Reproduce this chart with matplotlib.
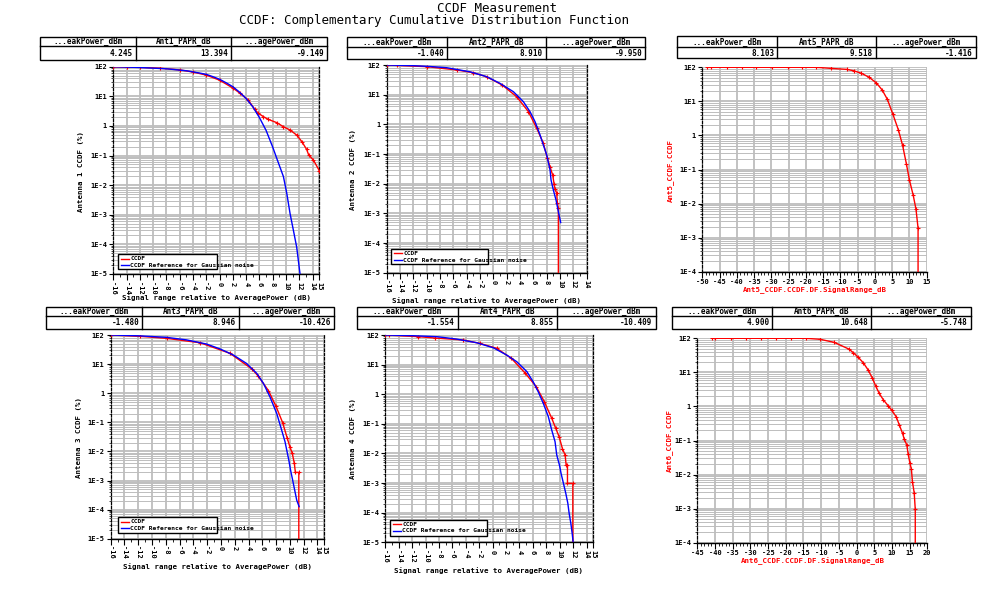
import matplotlib
matplotlib.use("Agg")
import matplotlib.pyplot as plt
from matplotlib.patches import Rectangle
from matplotlib.lines import Line2D
from matplotlib.ticker import MultipleLocator, LogLocator, NullFormatter

plt.rcParams['font.family'] = ['DejaVu Sans Mono', 'DejaVu Sans']

# ------------------------------------------------------------------ data
title_lines = ["CCDF Measurement",
               "CCDF: Complementary Cumulative Distribution Function"]

headers_ant1 = ["...eakPower_dBm", "Ant1_PAPR_dB", "...agePower_dBm"]
values_ant1 = ["4.245", "13.394", "-9.149"]
headers_ant2 = ["...eakPower_dBm", "Ant2_PAPR_dB", "...agePower_dBm"]
values_ant2 = ["-1.040", "8.910", "-9.950"]
headers_ant5 = ["...eakPower_dBm", "Ant5_PAPR_dB", "...agePower_dBm"]
values_ant5 = ["8.103", "9.518", "-1.416"]
headers_ant3 = ["...eakPower_dBm", "Ant3_PAPR_dB", "...agePower_dBm"]
values_ant3 = ["-1.480", "8.946", "-10.426"]
headers_ant4 = ["...eakPower_dBm", "Ant4_PAPR_dB", "...agePower_dBm"]
values_ant4 = ["-1.554", "8.855", "-10.409"]
headers_ant6 = ["...eakPower_dBm", "Ant6_PAPR_dB", "...agePower_dBm"]
values_ant6 = ["4.900", "10.648", "-5.748"]

legend_labels = ["CCDF", "CCDF Reference for Gaussian noise"]
xlabel_signal = "Signal range relative to AveragePower (dB)"
ylabel_ant1 = "Antenna 1 CCDF (%)"
ylabel_ant2 = "Antenna 2 CCDF (%)"
ylabel_ant3 = "Antenna 3 CCDF (%)"
ylabel_ant4 = "Antenna 4 CCDF (%)"
ylabel_ant5 = "Ant5_CCDF.CCDF"
xlabel_ant5 = "Ant5_CCDF.CCDF.DF.SignalRange_dB"
ylabel_ant6 = "Ant6_CCDF.CCDF"
xlabel_ant6 = "Ant6_CCDF.CCDF.DF.SignalRange_dB"

yticks_7dec = [1e-5, 1e-4, 1e-3, 1e-2, 1e-1, 1, 10, 100]
ylabels_7dec = ["1E-5", "1E-4", "1E-3", "1E-2", "1E-1", "1", "1E1", "1E2"]
yticks_6dec = [1e-4, 1e-3, 1e-2, 1e-1, 1, 10, 100]
ylabels_6dec = ["1E-4", "1E-3", "1E-2", "1E-1", "1", "1E1", "1E2"]

xticks_a = [-16, -14, -12, -10, -8, -6, -4, -2, 0, 2, 4, 6, 8, 10, 12, 14, 15]
xticks_b = [-16, -14, -12, -10, -8, -6, -4, -2, 0, 2, 4, 6, 8, 10, 12, 14]
xticks_ant5 = [-50, -45, -40, -35, -30, -25, -20, -15, -10, -5, 0, 5, 10, 15]
xticks_ant6 = [-45, -40, -35, -30, -25, -20, -15, -10, -5, 0, 5, 10, 15, 20]

# Antenna 1
ant1_ccdf_db = [-16, -14, -12, -9, -6, -4, -2, 0, 2, 3, 4.3, 5.3, 5.8, 6.6, 7.3,
                8.6, 9.6, 10.6, 11.6, 12.4, 13.1, 13.4, 14.1, 15.0]
ant1_ccdf_pct = [98, 97, 95, 89, 78, 66, 52, 35, 19, 13, 7.5, 3.6, 2.7, 2.05, 1.67,
                 1.29, 0.94, 0.73, 0.49, 0.29, 0.16, 0.105, 0.071, 0.031]
ant1_gauss_db = [-16, -12, -8, -5, -3, -2, -1, 0, 1, 2, 3, 4, 5, 6, 7, 8, 8.6,
                 9.6, 10.1, 10.6, 11.1, 11.6, 12.1]
ant1_gauss_pct = [99.9, 94, 85, 73, 61, 55, 46, 37.5, 28.5, 21, 13.8, 8.4, 4.4, 1.9,
                  0.7, 0.19, 0.08, 0.0195, 0.0054, 0.0011, 0.0003, 8e-5, 1e-5]

# Antenna 2
ant2_ccdf_db = [-16, -14.5, -10, -5.5, -3, -1, 1.35, 3.5, 5.25, 6.5, 7.5, 8.1, 8.5,
                8.9, 9.1, 9.25, 9.5, 9.6, 9.75, 9.75]
ant2_ccdf_pct = [99, 97, 88, 68, 55, 40, 21, 8.5, 2.7, 0.74, 0.23, 0.072, 0.037,
                 0.0195, 0.010, 0.0066, 0.0048, 0.0022, 0.0015, 1e-6]
ant2_gauss_db = [-16, -12, -9.5, -7, -3.5, -1, 1, 3, 4.5, 5.5, 6.25, 7, 7.5, 8, 8.5,
                 8.65, 9, 9.4, 9.75, 10.1]
ant2_gauss_pct = [100, 95, 89, 81, 59, 40.4, 24, 12.6, 5.8, 2.67, 1.23, 0.44, 0.2,
                  0.093, 0.029, 0.0133, 0.0061, 0.0028, 0.00114, 0.00049]

# Antenna 5
ant5_ccdf_db = [-48.6, -47.4, -42.8, -38.4, -34.4, -29.8, -25.1, -21.2, -17.0, -12.7,
                -8.2, -6.1, -3.9, -1.7, 0.4, 2.1, 3.6, 5.2, 6.8, 8.0, 9.1, 10.0, 11.1,
                11.9, 12.5, 12.5]
ant5_ccdf_pct = [100, 100, 100, 100, 100, 100, 100, 100, 100, 93,
                 87, 79, 66.7, 51, 35, 21.6, 11.5, 4.2, 1.45, 0.52, 0.15, 0.049, 0.0174,
                 0.0068, 0.0019, 1e-6]

# Antenna 3
ant3_ccdf_db = [-16, -11.75, -7.9, -3.0, 1.3, 4.5, 5.4, 6.9, 8.0, 8.95, 9.6, 10.0,
                10.35, 10.65, 10.8, 11.3, 11.3]
ant3_ccdf_pct = [100, 90, 77, 54, 23.5, 6.8, 3.9, 1.22, 0.35, 0.098, 0.0296, 0.0145,
                 0.0086, 0.0039, 0.0019, 0.0019, 1e-6]
ant3_gauss_db = [-16, -12, -7.9, -5, -2.1, -0.1, 1.8, 3.7, 5.2, 6.15, 7.1, 8.1, 8.8,
                 9.3, 9.55, 9.85, 10.1, 10.4, 10.7, 11.0, 11.35]
ant3_gauss_pct = [100, 94, 83, 68, 49, 33, 20.5, 10.6, 4.8, 2.2, 0.76, 0.2, 0.055,
                  0.0215, 0.011, 0.005, 0.0023, 0.00105, 0.00047, 0.00021, 0.000126]

# Antenna 4
ant4_ccdf_db = [-16, -15.5, -11.1, -8.6, -4.4, -1.9, 0.6, 2.8, 4.8, 6.5, 7.7, 8.8,
                9.4, 9.9, 10.4, 10.8, 10.95, 11.15, 11.15, 11.95, 11.95]
ant4_ccdf_pct = [100, 99, 88, 79, 68, 52, 35.5, 16.2, 5.3, 1.8, 0.56, 0.155, 0.071,
                 0.037, 0.0145, 0.0089, 0.0041, 0.0041, 0.00098, 0.00098, 1e-6]
ant4_gauss_db = [-16, -12, -8.3, -5.4, -2.4, 0.1, 2.1, 3.6, 5.1, 6.05, 6.8, 7.55, 8.3,
                 8.8, 9.3, 9.55, 9.95, 10.2, 10.55, 10.9, 11.2, 11.4, 11.65, 11.85, 12.0]
ant4_gauss_pct = [100, 95, 87.7, 73, 55, 37, 21, 12.5, 5.8, 2.6, 1.2, 0.49, 0.174,
                  0.062, 0.025, 0.0089, 0.0041, 0.0021, 0.00098, 0.00045, 0.00021,
                  9.5e-5, 4.4e-5, 2.0e-5, 1e-5]

# Antenna 6
ant6_ccdf_db = [-40.9, -39.9, -35.6, -31.3, -27.1, -22.8, -18.6, -14.4, -10.3, -6.3,
                -2.2, -0.9, 0.5, 1.9, 3.3, 4.5, 5.4, 6.4, 7.6, 9.0, 9.9, 11.2, 12.1,
                13.0, 13.5, 14.2, 14.6, 15.1, 15.5, 15.8, 16.3, 16.6, 16.6]
ant6_ccdf_pct = [100, 100, 100, 100, 100, 100, 100, 100, 93.5, 76,
                 48.5, 37.8, 27.5, 19.2, 11.7, 6.7, 4.0, 2.43, 1.55, 1.03, 0.785, 0.5,
                 0.285, 0.162, 0.108, 0.074, 0.0394, 0.0214, 0.0146, 0.0062, 0.0029,
                 0.00095, 1e-6]

# ------------------------------------------------------------------ figure
W, H = 1000, 593
fig = plt.figure(figsize=(W / 100, H / 100), dpi=100)
fig.patch.set_facecolor('white')

RED = '#ff0000'
BLUE = '#0000ff'
GRID = '#bdbdbd'


def T(x, y, s, **kw):
    kw.setdefault('fontsize', 5)
    kw.setdefault('fontweight', 'bold')
    kw.setdefault('zorder', 6)
    return fig.text(x / W, 1 - y / H, s, **kw)


def L(xs, ys, **kw):
    kw.setdefault('zorder', 6)
    fig.add_artist(Line2D([x / W for x in xs], [1 - y / H for y in ys],
                          transform=fig.transFigure, **kw))


def R(l, t, r, b, **kw):
    kw.setdefault('zorder', 5)
    fig.add_artist(Rectangle((l / W, 1 - b / H), (r - l) / W, (b - t) / H,
                             transform=fig.transFigure, **kw))


def draw_table(l, t, r, b, mid, d1, d2, headers, values):
    R(l, t, r, b, fill=False, ec='black', lw=1.0)
    L([l, r], [mid, mid], color='black', lw=1.0)
    L([d1, d1], [t, b], color='black', lw=1.0)
    L([d2, d2], [t, b], color='black', lw=1.0)
    for (c0, c1), h, v in zip([(l, d1), (d1, d2), (d2, r)], headers, values):
        T((c0 + c1) / 2, (t + mid) / 2 + 0.3, h, ha='center', va='center', fontsize=5.5)
        T(c1 - 3, (mid + b) / 2 + 0.3, v, ha='right', va='center', fontsize=5.5)


def draw_legend(l, t, r, b, rows):
    R(l, t, r, b, fc='white', ec='black', lw=1.0)
    for (color, label), yy in zip(rows, [t + 4.2, t + 10.8]):
        L([l + 2.5, l + 11], [yy, yy], color=color, lw=1.0)
        T(l + 12, yy, label, ha='left', va='center', fontsize=4.5)


def make_axes(l, t, r, b, xlim, xticks, yticks, ylabels, rotate, right_spine):
    ax = fig.add_axes([l / W, 1 - b / H, (r - l) / W, (b - t) / H])
    ax.set_yscale('log')
    ax.set_xlim(*xlim)
    ax.set_ylim(yticks[0], yticks[-1])
    ax.set_yticks(yticks)
    ax.set_yticklabels(ylabels)
    ax.yaxis.set_minor_locator(LogLocator(base=10, subs=(2, 3, 4, 5, 6, 7, 8, 9), numticks=50))
    ax.yaxis.set_minor_formatter(NullFormatter())
    ax.set_xticks(xticks)
    ax.set_xticklabels([str(v) for v in xticks])
    ax.xaxis.set_minor_locator(MultipleLocator(1))
    ax.grid(True, which='major', color=GRID, lw=1.3)
    ax.grid(True, which='minor', axis='y', color=GRID, lw=0.7)
    ax.set_axisbelow(True)
    for lab in ax.get_xticklabels() + ax.get_yticklabels():
        lab.set_fontweight('bold')
        lab.set_fontsize(5)
    if rotate:
        for lab in ax.get_xticklabels():
            lab.set_rotation(-90)
    ax.tick_params(axis='x', which='major', direction='out', length=4, width=0.8, pad=1.5)
    ax.tick_params(axis='x', which='minor', direction='out', length=2, width=0.6)
    ax.tick_params(axis='y', which='major', direction='out', length=3, width=0.8, pad=1.5)
    ax.tick_params(axis='y', which='minor', direction='out', length=1.2, width=0.5)
    ax.spines['top'].set_visible(False)
    ax.spines['bottom'].set_linewidth(1.0)
    ax.spines['left'].set_linestyle((0, (2, 1.5)))
    ax.spines['left'].set_linewidth(0.9)
    if right_spine:
        ax.spines['right'].set_linestyle((0, (2, 1.5)))
        ax.spines['right'].set_linewidth(0.9)
    else:
        ax.spines['right'].set_visible(False)
    return ax


def plot_ccdf(ax, x, y):
    ax.plot(x, y, color=RED, lw=1.0, marker='+', ms=3.5, mew=0.8, zorder=3)


def plot_gauss(ax, x, y):
    ax.plot(x, y, color=BLUE, lw=1.0, zorder=4)


# ------------------------------------------------------------------ titles
T(497, 8.5, title_lines[0], ha='center', va='center', fontsize=9, fontweight='normal')
T(434, 20.5, title_lines[1], ha='center', va='center', fontsize=9, fontweight='normal')

# ------------------------------------------------------------------ panel 1
draw_table(39.5, 37.3, 327.3, 60.3, 45.9, 135.7, 231.3, headers_ant1, values_ant1)
ax1 = make_axes(113.3, 66.7, 319.3, 274, (-16, 15), xticks_a, yticks_7dec, ylabels_7dec, True, True)
plot_ccdf(ax1, ant1_ccdf_db, ant1_ccdf_pct)
plot_gauss(ax1, ant1_gauss_db, ant1_gauss_pct)
draw_legend(118.3, 254.3, 216.7, 269, [(RED, legend_labels[0]), (BLUE, legend_labels[1])])
T(216.5, 297.5, xlabel_signal, ha='center', va='center', fontsize=5.3)
T(81, 171, ylabel_ant1, ha='center', va='center', rotation=90, fontsize=5.3)

# ------------------------------------------------------------------ panel 2
draw_table(347.3, 37.3, 645.3, 59.3, 47.3, 447.3, 546, headers_ant2, values_ant2)
ax2 = make_axes(386.7, 65, 586.7, 272.7, (-16, 14), xticks_b, yticks_7dec, ylabels_7dec, True, True)
plot_ccdf(ax2, ant2_ccdf_db, ant2_ccdf_pct)
plot_gauss(ax2, ant2_gauss_db, ant2_gauss_pct)
draw_legend(391, 249.3, 488.3, 264, [(RED, legend_labels[0]), (BLUE, legend_labels[1])])
T(486.7, 300.7, xlabel_signal, ha='center', va='center', fontsize=5.3)
T(353.3, 169, ylabel_ant2, ha='center', va='center', rotation=90, fontsize=5.3)

# ------------------------------------------------------------------ panel 3 (Ant5)
draw_table(677.3, 36.5, 976, 58.3, 47.3, 777.3, 876, headers_ant5, values_ant5)
ax3 = make_axes(702.3, 67.3, 926.7, 271.7, (-50, 15), xticks_ant5, yticks_6dec, ylabels_6dec, False, False)
plot_ccdf(ax3, ant5_ccdf_db, ant5_ccdf_pct)
T(814.5, 290, xlabel_ant5, ha='center', va='center', fontsize=5.3, color=RED)
T(670, 170, ylabel_ant5, ha='center', va='center', rotation=90, fontsize=5.3, color=RED)

# ------------------------------------------------------------------ panel 4 (Ant3)
draw_table(46, 307.3, 334.3, 328.7, 315.7, 142.3, 238.7, headers_ant3, values_ant3)
ax4 = make_axes(110.7, 335, 324.3, 538.7, (-16, 15), xticks_a, yticks_7dec, ylabels_7dec, True, True)
plot_ccdf(ax4, ant3_ccdf_db, ant3_ccdf_pct)
plot_gauss(ax4, ant3_gauss_db, ant3_gauss_pct)
draw_legend(118.3, 517.3, 216.7, 533.3, [(RED, legend_labels[0]), (BLUE, legend_labels[1])])
T(217.5, 566.7, xlabel_signal, ha='center', va='center', fontsize=5.3)
T(78.5, 438, ylabel_ant3, ha='center', va='center', rotation=90, fontsize=5.3)

# ------------------------------------------------------------------ panel 5 (Ant4)
draw_table(357.3, 307.3, 655.7, 329.3, 315.7, 457.7, 556.7, headers_ant4, values_ant4)
ax5 = make_axes(385.3, 335, 593.3, 542.3, (-16, 15), xticks_a, yticks_7dec, ylabels_7dec, True, True)
plot_ccdf(ax5, ant4_ccdf_db, ant4_ccdf_pct)
plot_gauss(ax5, ant4_gauss_db, ant4_gauss_pct)
draw_legend(390.3, 520, 487.3, 536, [(RED, legend_labels[0]), (BLUE, legend_labels[1])])
T(489, 570.7, xlabel_signal, ha='center', va='center', fontsize=5.3)
T(353.3, 438.7, ylabel_ant4, ha='center', va='center', rotation=90, fontsize=5.3)

# ------------------------------------------------------------------ panel 6 (Ant6)
draw_table(672.3, 307.3, 970.7, 329.3, 315.7, 772.3, 871.3, headers_ant6, values_ant6)
ax6 = make_axes(697.3, 338.3, 927.3, 542.7, (-45, 20), xticks_ant6, yticks_6dec, ylabels_6dec, False, False)
plot_ccdf(ax6, ant6_ccdf_db, ant6_ccdf_pct)
T(812.7, 561, xlabel_ant6, ha='center', va='center', fontsize=5.3, color=RED)
T(669, 440, ylabel_ant6, ha='center', va='center', rotation=90, fontsize=5.3, color=RED)

fig.savefig('out.png', dpi=100, facecolor='white')
